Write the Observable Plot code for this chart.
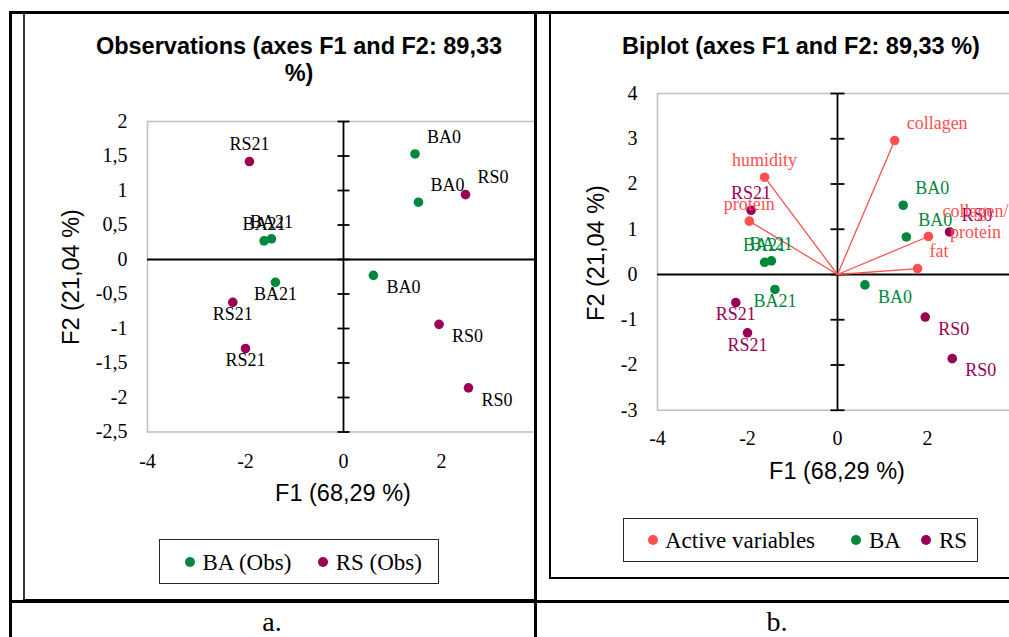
<!DOCTYPE html>
<html>
<head>
<meta charset="utf-8">
<script src="https://cdn.jsdelivr.net/npm/d3@7"></script>
<script src="https://cdn.jsdelivr.net/npm/@observablehq/plot@0.6"></script>
<style>
  html,body{margin:0;padding:0;background:#fff;}
  #page{position:relative;width:1009px;height:637px;overflow:hidden;background:#fff;}
  .ln{position:absolute;background:#000;}
  .clip{position:absolute;overflow:hidden;}
  .clip svg{position:absolute;left:0;top:0;max-width:none !important;}
  .t{position:absolute;white-space:nowrap;line-height:1;transform:translate(-50%,-50%);color:#000;}
  .sans{font-family:"Liberation Sans",Arial,sans-serif;}
  .serif{font-family:"Liberation Serif","Times New Roman",serif;}
  .legend{position:absolute;box-sizing:border-box;border:1.5px solid #262626;background:#fff;}
  .ldot{position:absolute;width:10px;height:10px;border-radius:50%;transform:translate(-50%,-50%);}
  .llab{position:absolute;white-space:nowrap;line-height:1;transform:translateY(-50%);font-family:"Liberation Serif","Times New Roman",serif;font-size:23px;color:#000;}
</style>
</head>
<body>
<div id="page"></div>
<script>
// ---------- data ----------
const obsLabels = ["BA0","BA0","BA0","BA21","BA21","BA21","RS0","RS0","RS0","RS21","RS21","RS21"];
const obsGroup  = ["BA","BA","BA","BA","BA","BA","RS","RS","RS","RS","RS","RS"];
const obsF1     = [1.46, 1.53, 0.61, -1.62, -1.47, -1.39, 2.49, 1.95, 2.55, -1.92, -2.26, -2.00];
const obsF2     = [1.53, 0.83, -0.23, 0.27, 0.30, -0.33, 0.94, -0.94, -1.86, 1.42, -0.62, -1.29];
const varNames  = ["collagen","humidity","protein","collagen/protein","fat"];
const varF1     = [1.27, -1.62, -1.96, 2.02, 1.78];
const varF2     = [2.96, 2.15, 1.18, 0.84, 0.13];
const xTicks        = [-4, -2, 0, 2, 4];
const yTicksObs     = [-2.5, -2, -1.5, -1, -0.5, 0, 0.5, 1, 1.5, 2];
const yTicksBiplot  = [-3, -2, -1, 0, 1, 2, 3, 4];
const titleObsLines = ["Observations (axes F1 and F2: 89,33", "%)"];
const titleBiplot   = "Biplot (axes F1 and F2: 89,33 %)";
const xTitle = "F1 (68,29 %)";
const yTitle = "F2 (21,04 %)";
const legendObs    = ["BA (Obs)", "RS (Obs)"];
const legendBiplot = ["Active variables", "BA", "RS"];
const panelLabels  = ["a.", "b."];

// ---------- layout / style ----------
const obsPlace = ["ur","ur","lr","above","above","below","ur","lr","lr","above","below","below"];
const varPlace = ["ur","above","above","right2","ur"];
const groupColor = {BA: "#00873E", RS: "#990055"};
const varColor = "#FF5050";

const obs = obsLabels.map((label, i) => ({label, group: obsGroup[i], f1: obsF1[i], f2: obsF2[i], place: obsPlace[i]}));
const vars = varNames.map((label, i) => ({label, f1: varF1[i], f2: varF2[i], place: varPlace[i]}));

const fmt = d => String(d).replace(".", ",");
const hline = {draw(ctx, size) { const r = Math.sqrt(size / Math.PI); ctx.moveTo(-r, 0); ctx.lineTo(r, 0); }};
const placements = {
  above:  {textAnchor: "middle", dx: 0,  dy: -17},
  below:  {textAnchor: "middle", dx: 0,  dy: 12},
  ur:     {textAnchor: "start",  dx: 12, dy: -17},
  lr:     {textAnchor: "start",  dx: 13, dy: 12},
  right2: {textAnchor: "middle", dx: 47, dy: -16, lineHeight: 1.22}
};
function labelMarks(data, fill) {
  return Object.entries(placements).map(([k, p]) =>
    Plot.text(data.filter(d => d.place === k), {
      x: "f1", y: "f2",
      text: d => k === "right2" ? d.label.replace("/", "/\n") : d.label,
      fill, fontSize: 18, ...p
    }));
}
const baseStyle = {fontFamily: "'Liberation Serif', 'Times New Roman', serif", fontSize: "20px", background: "transparent", color: "#000", overflow: "visible", maxWidth: "none"};

const page = document.getElementById("page");

// ---------- left chart ----------
const left = Plot.plot({
  width: 545, height: 600,
  marginLeft: 147, marginRight: 6, marginTop: 121, marginBottom: 168.5,
  style: baseStyle,
  x: {domain: [-4, 4], label: null},
  y: {domain: [-2.5, 2], label: null},
  color: {type: "identity"},
  marks: [
    Plot.frame({stroke: "#bfbfbf", strokeWidth: 1.5}),
    Plot.ruleY([0], {stroke: "#000", strokeWidth: 1.8}),
    Plot.ruleX([0], {stroke: "#000", strokeWidth: 1.8}),
    Plot.dot(yTicksObs, {x: () => 0, y: d => d, symbol: hline, r: 6, fill: "none", stroke: "#000", strokeWidth: 1.8}),
    Plot.axisX(xTicks, {tickSize: 0, tickPadding: 22, tickFormat: fmt, label: null}),
    Plot.axisY(yTicksObs, {tickSize: 0, tickPadding: 20, tickFormat: fmt, label: null}),
    Plot.dot(obs, {x: "f1", y: "f2", r: 4.8, fill: d => groupColor[d.group], stroke: "none"}),
    ...labelMarks(obs, "#000")
  ]
});
left.style.maxWidth = "none";
left.style.width = "545px";
left.style.height = "600px";
const lclip = document.createElement("div");
lclip.className = "clip";
Object.assign(lclip.style, {left: "0px", top: "0px", width: "535px", height: "600px"});
lclip.appendChild(left);
page.appendChild(lclip);

// ---------- right chart ----------
const right = Plot.plot({
  width: 490, height: 600,
  marginLeft: 120, marginRight: 10, marginTop: 93, marginBottom: 190.25,
  style: baseStyle,
  x: {domain: [-4, 4], label: null},
  y: {domain: [-3, 4], label: null},
  color: {type: "identity"},
  marks: [
    Plot.frame({stroke: "#bfbfbf", strokeWidth: 1.5}),
    Plot.ruleY([0], {stroke: "#000", strokeWidth: 1.8}),
    Plot.ruleX([0], {stroke: "#000", strokeWidth: 1.8}),
    Plot.dot(yTicksBiplot, {x: () => 0, y: d => d, symbol: hline, r: 7, fill: "none", stroke: "#000", strokeWidth: 1.8}),
    Plot.axisX(xTicks, {tickSize: 0, tickPadding: 21, tickFormat: fmt, label: null}),
    Plot.axisY(yTicksBiplot, {tickSize: 0, tickPadding: 20, tickFormat: fmt, label: null}),
    Plot.link(vars, {x1: () => 0, y1: () => 0, x2: "f1", y2: "f2", stroke: varColor, strokeWidth: 1.3}),
    Plot.dot(obs, {x: "f1", y: "f2", r: 4.8, fill: d => groupColor[d.group], stroke: "none"}),
    Plot.dot(vars, {x: "f1", y: "f2", r: 4.8, fill: varColor, stroke: "none"}),
    ...labelMarks(obs, d => groupColor[d.group]),
    ...labelMarks(vars, varColor)
  ]
});
right.style.maxWidth = "none";
right.style.width = "490px";
right.style.height = "600px";
const rclip = document.createElement("div");
rclip.className = "clip";
Object.assign(rclip.style, {left: "537px", top: "0px", width: "472px", height: "577px"});
rclip.appendChild(right);
page.appendChild(rclip);

// ---------- texts ----------
function addText(txt, cx, cy, cls, size, weight, rot) {
  const d = document.createElement("div");
  d.className = "t " + cls;
  d.textContent = txt;
  d.style.left = cx + "px";
  d.style.top = cy + "px";
  d.style.fontSize = size + "px";
  if (weight) d.style.fontWeight = weight;
  if (rot) d.style.transform = `translate(-50%,-50%) rotate(${rot}deg)`;
  page.appendChild(d);
}
addText(titleObsLines[0], 299, 46.5, "sans", 23.5, "bold");
addText(titleObsLines[1], 299, 74, "sans", 23.5, "bold");
addText(titleBiplot, 801, 46.5, "sans", 23.5, "bold");
addText(xTitle, 343, 494, "sans", 23.5);
addText(xTitle, 837, 472, "sans", 23.5);
addText(yTitle, 72, 276.5, "sans", 23.5, null, -90);
addText(yTitle, 597, 252.5, "sans", 23.5, null, -90);
addText(panelLabels[0], 272, 621.5, "serif", 28);
addText(panelLabels[1], 777, 621.5, "serif", 28);

// ---------- legends ----------
function addBox(x, y, w, h) {
  const b = document.createElement("div");
  b.className = "legend";
  Object.assign(b.style, {left: x + "px", top: y + "px", width: w + "px", height: h + "px"});
  page.appendChild(b);
}
function addItem(dotX, textX, cy, color, label) {
  const d = document.createElement("div");
  d.className = "ldot";
  Object.assign(d.style, {left: dotX + "px", top: cy + "px", background: color});
  page.appendChild(d);
  const t = document.createElement("div");
  t.className = "llab";
  t.textContent = label;
  Object.assign(t.style, {left: textX + "px", top: cy + "px"});
  page.appendChild(t);
}
addBox(159, 539, 280, 45);
addItem(189.5, 202.5, 561.5, groupColor.BA, legendObs[0]);
addItem(322.7, 335.7, 561.5, groupColor.RS, legendObs[1]);
addBox(623, 518, 355, 44);
addItem(652.7, 665, 540, varColor, legendBiplot[0]);
addItem(855.7, 869, 540, groupColor.BA, legendBiplot[1]);
addItem(925.7, 939, 540, groupColor.RS, legendBiplot[2]);

// ---------- table / panel borders ----------
function addLine(x, y, w, h, color) {
  const l = document.createElement("div");
  l.className = "ln";
  Object.assign(l.style, {left: x + "px", top: y + "px", width: w + "px", height: h + "px", background: color || "#000"});
  page.appendChild(l);
}
addLine(23, 12, 2, 589, "#3a3a3a");   // left chart frame
addLine(23, 599, 512, 2, "#000");
addLine(549, 12, 2, 567, "#000");     // right chart frame
addLine(549, 577, 460, 2, "#000");
addLine(9, 11, 1000, 3);              // table top
addLine(9, 11, 3, 626);               // table left
addLine(534, 11, 3, 626);             // divider
addLine(9, 600, 1000, 3);             // row divider
</script>
</body>
</html>
